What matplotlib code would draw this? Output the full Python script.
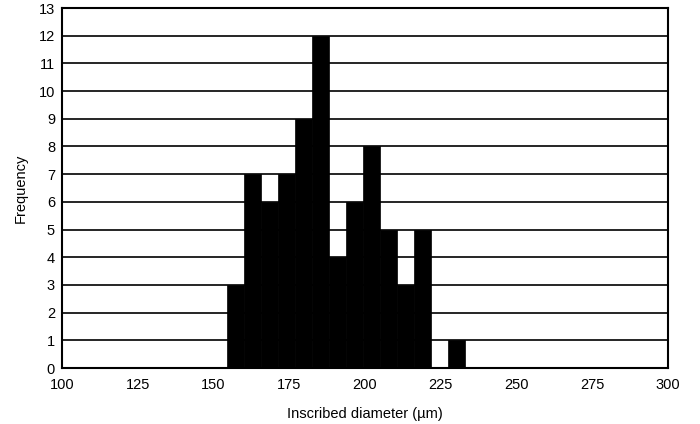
import numpy as np
import matplotlib
matplotlib.use("Agg")
import matplotlib.pyplot as plt

plt.rcParams['font.family'] = ['Liberation Sans', 'DejaVu Sans']

bin_edges = [154.5, 160.1, 165.7, 171.3, 176.9, 182.5, 188.1, 193.7,
             199.3, 204.9, 210.5, 216.1, 221.7, 227.3, 232.9]
counts = [3, 7, 6, 7, 9, 12, 4, 6, 8, 5, 3, 5, 0, 1]
xticks = [100, 125, 150, 175, 200, 225, 250, 275, 300]
yticks = list(range(0, 14))

fig = plt.figure(figsize=(7.0, 4.24), dpi=100)
ax = fig.add_axes([62/700, 1 - 368/424, (668-62)/700, (368-8)/424])

edges = np.array(bin_edges)
ax.bar(edges[:-1], counts, width=np.diff(edges), align='edge',
       color='black', edgecolor='black', linewidth=0.5, zorder=3)

for y in yticks[1:]:
    ax.axhline(y, color='black', linewidth=1.2, zorder=1)

ax.set_xlim(100, 300)
ax.set_ylim(0, 13)
ax.set_xticks(xticks)
ax.set_yticks(yticks)
ax.tick_params(length=0, labelsize=10.5)
ax.tick_params(axis='x', pad=7)
ax.tick_params(axis='y', pad=5)
for s in ax.spines.values():
    s.set_linewidth(1.5)

ax.set_xlabel('Inscribed diameter (µm)', fontsize=10.5, labelpad=11)
ax.set_ylabel('Frequency', fontsize=10.5, labelpad=8)

fig.savefig('out.png', dpi=100)
